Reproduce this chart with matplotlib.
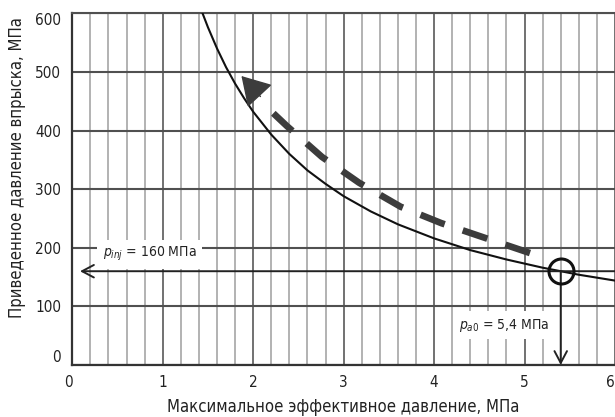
import numpy as np
import matplotlib
matplotlib.use("Agg")
import matplotlib.pyplot as plt

# injection pressure needed vs. maximum effective pressure
p_me = [1.44, 1.5, 1.6, 1.7, 1.8, 1.9, 2.0, 2.2, 2.4, 2.6, 2.8, 3.0,
        3.3, 3.6, 4.0, 4.4, 4.8, 5.2, 5.6, 6.0]
p_inj = [600, 576, 540, 508, 480, 455, 432, 393, 360, 332, 309, 288,
         262, 240, 216, 196, 180, 166, 154, 144]

# dashed trend arrow (runs from lower right up to the head)
trend_x = [5.06, 4.56, 4.08, 3.63, 3.17, 2.76, 2.37, 2.15]
trend_y = [191, 217, 242, 270, 311, 355, 408, 440]
head_x = [2.08, 1.87]
head_y = [458, 493]

# operating point
op_x = 5.4
op_y = 160

xticks = [0, 1, 2, 3, 4, 5, 6]
yticks = [0, 100, 200, 300, 400, 500, 600]

plt.rcParams['font.family'] = ['DejaVu Sans']
plt.rcParams['font.stretch'] = 'condensed'
plt.rcParams['mathtext.fontset'] = 'custom'
plt.rcParams['mathtext.rm'] = 'DejaVu Sans:stretch=condensed'
plt.rcParams['mathtext.it'] = 'DejaVu Sans:italic:stretch=condensed'
plt.rcParams['lines.scale_dashes'] = False

fig = plt.figure(figsize=(6.15, 4.17), dpi=100)
ax = fig.add_axes([72.3/615, 52/417, 1 - 72.3/615, 351.7/417])
ax.set_xlim(0, 6)
ax.set_ylim(0, 600)

# grid: fine vertical lines every 0.2, heavier ones on whole numbers
ax.set_xticks(xticks)
ax.set_xticks(np.arange(0, 6.01, 0.2), minor=True)
ax.set_yticks(yticks)
ax.grid(which='minor', axis='x', color='#9e9e9e', lw=1.1)
ax.grid(which='major', axis='x', color='#666666', lw=1.3)
ax.grid(which='major', axis='y', color='#505050', lw=1.5)
ax.set_axisbelow(True)
ax.tick_params(which='both', length=0, labelcolor='#222222', labelsize=11)
ax.tick_params(axis='x', pad=7)
ax.tick_params(axis='y', pad=8)

ax.spines['right'].set_visible(False)
ax.spines['top'].set_color('#505050')
ax.spines['top'].set_linewidth(1.5)
for s in ['left', 'bottom']:
   ax.spines[s].set_color('#333333')
   ax.spines[s].set_linewidth(1.6)

xl = ax.get_xticklabels()
xl[0].set_ha('right')
xl[-1].set_ha('right')
yl = ax.get_yticklabels()
yl[0].set_va('bottom')
yl[-1].set_va('top')

# main curve
ax.plot(p_me, p_inj, color='#111111', lw=1.5, zorder=3)

# dashed trend with filled head
ax.plot(trend_x, trend_y, color='#3c3c3c', lw=4.8, dashes=(18.7, 13.7),
        zorder=4)
ax.annotate('', xy=(head_x[1], head_y[1]), xytext=(head_x[0], head_y[0]),
            arrowprops=dict(arrowstyle='-|>,head_length=1.0,head_width=0.6',
                            mutation_scale=18, color='#3c3c3c', lw=1,
                            shrinkA=0, shrinkB=0), zorder=4)

# read-off arrows from the operating point
arrow = dict(arrowstyle='->,head_length=0.85,head_width=0.45',
             mutation_scale=10, color='#222222', lw=1.4,
             shrinkA=0, shrinkB=0)
ax.annotate('', xy=(0.085, op_y), xytext=(6, op_y), arrowprops=arrow,
            zorder=5)
ax.annotate('', xy=(op_x, 0), xytext=(op_x, op_y), arrowprops=arrow,
            zorder=5)
ax.plot(op_x, op_y, 'o', ms=18, mfc='none', mec='#111111', mew=2.2,
        zorder=6)

box = dict(fc='white', ec='none', pad=4)
ax.text(0.855, 189, r'$p_{inj}$ = 160 МПа', ha='center', va='center',
        fontsize=10, color='#222222', bbox=box, zorder=5)
ax.text(4.77, 68, r'$p_{a\mathit{0}}$ = 5,4 МПа', ha='center',
        va='center', fontsize=10, color='#222222', bbox=box, zorder=5)

ax.set_xlabel('Максимальное эффективное давление, МПа', fontsize=12,
              color='#222222')
ax.xaxis.set_label_coords(0.5, -0.119)
ax.xaxis.label.set_va('center')
ax.set_ylabel('Приведенное давление впрыска, МПа', fontsize=12,
              color='#222222')
ax.yaxis.set_label_coords(-0.102, 0.56)
ax.yaxis.label.set_va('center')

fig.savefig('out.png', dpi=100)
